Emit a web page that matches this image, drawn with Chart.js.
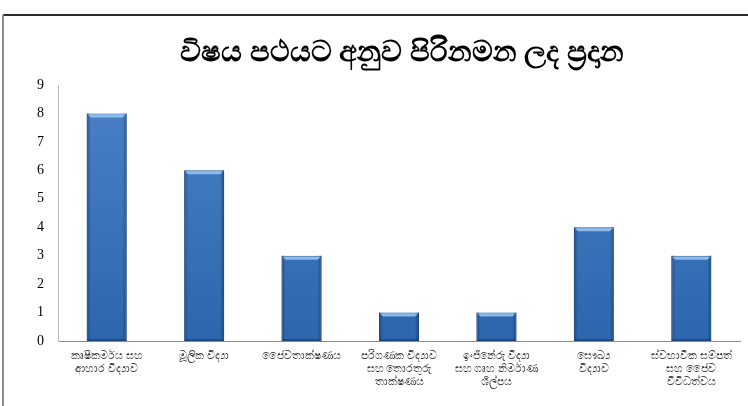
<!DOCTYPE html>
<html>
<head>
  <title>විෂය පථයට අනුව පිරිනමන ලද ප්‍රදාන</title>
  <script src="https://cdn.jsdelivr.net/npm/chart.js"></script>
  <style>
    html, body { margin: 0; padding: 0; background: #fff; }
    #wrap { position: relative; width: 748px; height: 406px; }
  </style>
</head>
<body>
<div id="wrap">
  <canvas id="grantChart" width="748" height="406"></canvas>
</div>
<script>
  // දත්ත
  const chartTitle = 'විෂය පථයට අනුව පිරිනමන ලද ප්‍රදාන';
  const categories = [
    ['කෘෂිකර්මය සහ', 'ආහාර විද්‍යාව'],
    ['මූලික විද්‍යා'],
    ['ජෛවතාක්ෂණය'],
    ['පරිගණක විද්‍යාව', 'සහ තොරතුරු', 'තාක්ෂණය'],
    ['ඉංජිනේරු විද්‍යා', 'සහ ගෘහ නිර්මාණ', 'ශිල්පය'],
    ['සෞඛ්‍ය', 'විද්‍යාව'],
    ['ස්වභාවික සම්පත්', 'සහ ජෛව', 'විවිධත්වය']
  ];
  const grants = [8, 6, 3, 1, 1, 4, 3];
  const yMin = 0;
  const yMax = 9;
  const yStep = 1;

  // frame lines (top + left) and the title, like the original
  const framePlugin = {
    id: 'frame',
    beforeDraw(chart) {
      const c = chart.ctx;
      c.save();
      c.fillStyle = '#fff';
      c.fillRect(0, 0, chart.width, chart.height);
      c.fillStyle = '#2b2b2b';
      c.fillRect(3, 14, chart.width - 3, 2);
      c.fillStyle = '#8c8c8c';
      c.fillRect(2, 15, 2, chart.height - 15);
      c.fillStyle = '#000';
      c.font = 'bold 29px "Noto Sans", "DejaVu Sans"';
      c.textAlign = 'center';
      c.textBaseline = 'middle';
      c.fillText(chartTitle, 402, 53);
      c.restore();
    }
  };

  // bevel look for bars
  const bevelPlugin = {
    id: 'bevel',
    afterDatasetsDraw(chart) {
      const c = chart.ctx;
      const meta = chart.getDatasetMeta(0);
      c.save();
      meta.data.forEach(bar => {
        const left = bar.x - bar.width / 2;
        const w = bar.width;
        const top = bar.y;
        const h = bar.base - bar.y;
        // sides darker
        const g = c.createLinearGradient(left, 0, left + w, 0);
        g.addColorStop(0, 'rgba(15,45,90,0.55)');
        g.addColorStop(0.1, 'rgba(15,45,90,0.0)');
        g.addColorStop(0.9, 'rgba(15,45,90,0.0)');
        g.addColorStop(1, 'rgba(15,45,90,0.6)');
        c.fillStyle = g;
        c.fillRect(left, top, w, h);
        // top highlight
        c.fillStyle = 'rgba(150,195,240,0.9)';
        c.beginPath();
        c.moveTo(left + 1, top + 1);
        c.lineTo(left + w - 1, top + 1);
        c.lineTo(left + w - 4, top + 4);
        c.lineTo(left + 4, top + 4);
        c.closePath();
        c.fill();
        // bottom shade
        c.fillStyle = 'rgba(20,50,100,0.5)';
        c.fillRect(left + 1, bar.base - 2, w - 2, 2);
      });
      c.restore();
    }
  };

  const ctx = document.getElementById('grantChart').getContext('2d');
  new Chart(ctx, {
    type: 'bar',
    data: {
      labels: categories,
      datasets: [{
        data: grants,
        backgroundColor: (context) => {
          const chart = context.chart;
          const area = chart.chartArea;
          if (!area) return '#3a74ba';
          const g = chart.ctx.createLinearGradient(0, area.top, 0, area.bottom);
          g.addColorStop(0, '#4b82c6');
          g.addColorStop(1, '#2d66ad');
          return g;
        },
        borderColor: '#2a5d9a',
        borderWidth: 1,
        borderSkipped: false,
        barPercentage: 0.82,
        categoryPercentage: 0.5
      }]
    },
    options: {
      responsive: false,
      animation: false,
      layout: { padding: { left: 0, right: 8, top: 85, bottom: 0 } },
      plugins: {
        legend: { display: false },
        tooltip: { enabled: false },
        title: { display: false }
      },
      scales: {
        x: {
          grid: { display: false, drawTicks: false },
          border: { color: '#8c8c8c', width: 1 },
          ticks: {
            color: '#404040',
            font: { family: 'Noto Sans, DejaVu Sans', size: 11 },
            padding: 8,
            maxRotation: 0,
            autoSkip: false
          },
          afterFit(scale) { scale.height = 65; }
        },
        y: {
          min: yMin,
          max: yMax,
          grid: { display: false, drawTicks: false },
          border: { color: '#bfbfbf', width: 1 },
          ticks: {
            stepSize: yStep,
            color: '#000',
            font: { family: 'Liberation Serif', size: 14 },
            padding: 14
          },
          afterFit(scale) { scale.width = 58; }
        }
      }
    },
    plugins: [framePlugin, bevelPlugin]
  });
</script>
</body>
</html>
